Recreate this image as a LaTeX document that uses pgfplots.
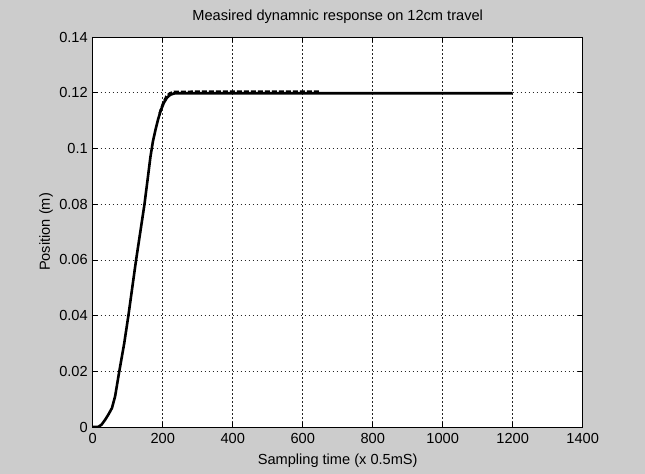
\documentclass[border=0pt]{standalone}
\usepackage{pgfplots}
\pgfplotsset{compat=1.18}
\usepackage{fontspec}
\setmainfont{Liberation Sans}
\definecolor{figgray}{RGB}{204,204,204}
\begin{document}
\begin{tikzpicture}
\fill[figgray] (0,0) rectangle (645bp,474bp);
\begin{axis}[
  at={(92.7bp,47bp)}, anchor=south west,
  scale only axis, width=490bp, height=390bp,
  xmin=0, xmax=1400, ymin=0, ymax=0.14,
  xtick={0,200,400,600,800,1000,1200,1400},
  ytick={0,0.02,0.04,0.06,0.08,0.1,0.12,0.14},
  scaled y ticks=false, scaled x ticks=false,
  /pgf/number format/1000 sep={},
  yticklabel style={/pgf/number format/fixed, /pgf/number format/precision=2, xshift=-1.5bp},
  xticklabel style={anchor=base, yshift=-16.3bp},
  /pgf/number format/assume math mode=true,
  font=\fontsize{14.6bp}{17bp}\selectfont,
  tick label style={font=\fontsize{14.6bp}{17bp}\selectfont},
  axis background/.style={fill=white},
  axis line style={line width=0.6bp},
  tick style={line width=0.6bp, black},
  major tick length=5bp,
  tick align=inside,
  grid=major,
  major grid style={dash pattern=on 1.5bp off 2.5bp, black!85, line width=0.55bp},
  title={Measired dynamnic response on 12cm travel},
  title style={at={(axis description cs:0.5,1.0264)}, anchor=base},
  xlabel={Sampling time (x 0.5mS)},
  xlabel style={at={(axis description cs:0.5,-0.0974)}, anchor=base},
  ylabel={Position (m)},
  ylabel style={at={(axis description cs:-0.0872,0.5)}, anchor=base},
]
\addplot[black, line width=1.8bp, dashed, dash pattern=on 5bp off 2bp] coordinates {
(190,0.1125) (200,0.1162) (210,0.1188) (220,0.1199) (232,0.1204) (300,0.1205) (450,0.1205) (650,0.1205)
};
\addplot[black, line width=2.6bp, line join=round] coordinates {
(0,0) (15,0) (25,0.0008) (35,0.0025) (45,0.0045) (55,0.0068) (64,0.011)
(76,0.02) (90,0.03) (102,0.04) (113,0.05) (124,0.06) (136,0.07) (148,0.08)
(158,0.09) (165,0.097) (172,0.1025) (180,0.107) (187,0.1105) (195,0.1138) (203,0.1163)
(212,0.1182) (222,0.1193) (235,0.1198) (260,0.1198) (600,0.1198) (1200,0.1198)
};
\end{axis}
\pgfresetboundingbox
\path (0,0) rectangle (645bp,474bp);
\end{tikzpicture}
\end{document}
